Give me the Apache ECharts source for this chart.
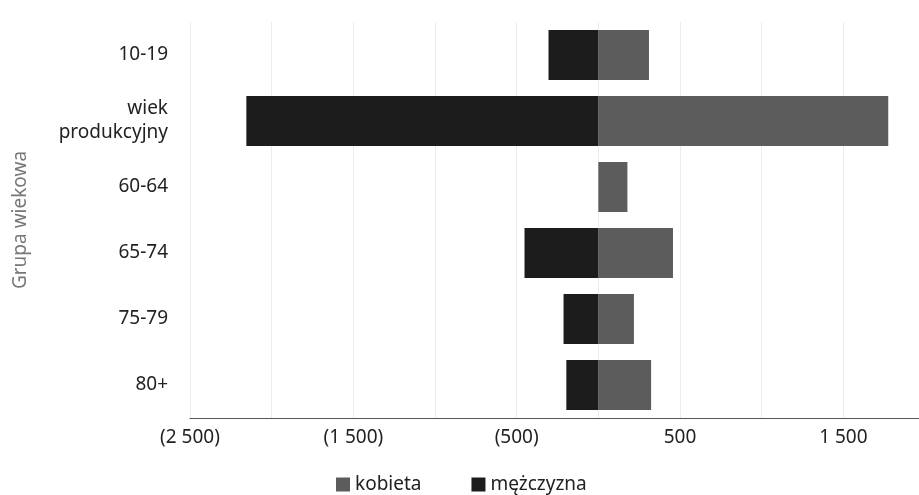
<!DOCTYPE html>
<html>
<head>
<meta charset="utf-8">
<script src="https://cdn.jsdelivr.net/npm/echarts@6/dist/echarts.min.js"></script>
<style>
html,body{margin:0;padding:0;background:#fff;}
#c{width:919px;height:495px;}
</style>
</head>
<body>
<div id="c"></div>
<script>
const categories = ['10-19', 'wiek\nprodukcyjny', '60-64', '65-74', '75-79', '80+'];
const kobieta = [310, 1775, 178, 457, 218, 323];
const mezczyzna = [-305, -2155, 0, -452, -213, -196];
const tickLabels = [-2500, -1500, -500, 500, 1500];

function fmt(v) {
  const a = Math.abs(v);
  const s = a >= 1000 ? Math.floor(a / 1000) + ' ' + String(a % 1000).padStart(3, '0') : String(a);
  return v < 0 ? '(' + s + ')' : s;
}

const chart = echarts.init(document.getElementById('c'));
const FONT = 'Noto Sans';
chart.setOption({
  animation: false,
  textStyle: { fontFamily: FONT },
  grid: { left: 190, width: 735, top: 22, bottom: 77, containLabel: false, outerBoundsMode: 'none' },
  legend: {
    top: 470,
    left: 331,
    itemWidth: 14,
    itemHeight: 14,
    itemGap: 50,
    icon: 'rect',
    textStyle: { fontSize: 19, color: '#222', fontFamily: FONT },
    data: ['kobieta', 'mężczyzna']
  },
  xAxis: {
    type: 'value',
    min: -2500,
    max: 2000,
    interval: 500,
    axisLine: { show: true, lineStyle: { color: '#555', width: 1 } },
    axisTick: { show: false },
    splitLine: { show: true, lineStyle: { color: '#ececec' } },
    axisLabel: {
      fontSize: 19,
      color: '#222',
      margin: 10,
      formatter: function (v) { return tickLabels.indexOf(v) >= 0 ? fmt(v) : ''; }
    }
  },
  yAxis: {
    type: 'category',
    inverse: true,
    data: categories,
    name: 'Grupa wiekowa',
    nameLocation: 'middle',
    nameGap: 160,
    nameRotate: 90,
    nameTextStyle: { fontSize: 19, color: '#777', fontFamily: FONT },
    axisLine: { show: false },
    axisTick: { show: false },
    axisLabel: { fontSize: 19, color: '#222', margin: 22, lineHeight: 24, align: 'right' }
  },
  series: [
    {
      name: 'kobieta', type: 'bar', stack: 'a', data: kobieta,
      barWidth: 50,
      itemStyle: { color: '#5c5c5c' }
    },
    {
      name: 'mężczyzna', type: 'bar', stack: 'a', data: mezczyzna,
      barWidth: 50,
      itemStyle: { color: '#1c1c1c' }
    }
  ]
});
</script>
</body>
</html>
